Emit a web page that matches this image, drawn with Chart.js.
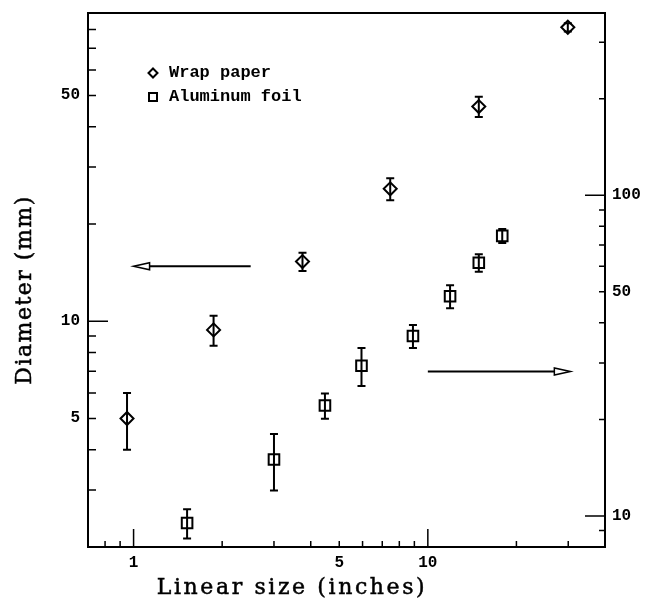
<!DOCTYPE html>
<html>
<head>
<meta charset="utf-8">
<title>Diameter vs linear size</title>
<script src="https://cdn.jsdelivr.net/npm/chart.js@4.4.0/dist/chart.umd.min.js"></script>
<style>
    html, body { margin: 0; padding: 0; background: #fff; }
</style>
</head>
<body>
<canvas id="chart" width="652" height="602"></canvas>
<script>
// Wrap paper (read on the left axis, mm)
const wrapSize = [0.95, 1.87, 3.75, 7.45, 14.9, 29.9];
const wrapDiam = [5.0, 9.4, 15.3, 25.7, 46.2, 81.3];
const wrapErr = [1.0, 1.0, 1.0, 2.0, 3.3, 2.4];

// Aluminum foil (read on the right axis)
const foilSize = [1.52, 3.0, 4.47, 5.95, 8.9, 11.9, 14.9, 17.9];
const foilDiam = [9.5, 15.0, 22.1, 29.4, 36.4, 48.4, 61.6, 74.7];
const foilErr = [1.0, 3.0, 2.0, 4.0, 3.0, 4.0, 3.9, 3.8];

// Tick labels
const xLabels = [1, 5, 10];
const leftLabels = [5, 10, 50];
const rightLabels = [10, 50, 100];

// Axis ranges
const xRange = [0.7, 40];
const leftRange = [2, 90];
const rightRange = [8, 370];

// Arrows telling which axis goes with which series (data coords)
const leftArrow = { from: 2.5, to: 1.0, y: 14.8 };
const rightArrow = { from: 10, to: 30.5, y: 28.2 };

const tickFont = { family: 'Liberation Mono', size: 16, weight: 'bold' };

// all 1..9 x 10^n positions inside a range, for the little tick marks
function logTickValues(min, max) {
    const out = [];
    for (let e = -1; e <= 3; e++) {
        for (let d = 1; d <= 9; d++) {
            const v = d * Math.pow(10, e);
            if (v >= min && v <= max) out.push(v);
        }
    }
    return out;
}

function isDecade(v) {
    return Math.abs(Math.log10(v) - Math.round(Math.log10(v))) < 1e-9;
}

// draw text a little heavier, like the scanned original
function heavyText(ctx, text, x, y) {
    ctx.fillText(text, x, y);
    ctx.lineWidth = 0.5;
    ctx.strokeText(text, x, y);
}

// Frame, inward tick marks, error bars, arrows, legend, axis titles
const decorPlugin = {
    id: 'decor',
    afterDatasetsDraw(chart) {
        const ctx = chart.ctx;
        const area = chart.chartArea;
        const sx = chart.scales.x;
        const sy = chart.scales.y;
        const sy2 = chart.scales.y2;

        ctx.save();
        ctx.strokeStyle = '#000';
        ctx.fillStyle = '#000';
        ctx.lineCap = 'butt';

        // error bars
        ctx.lineWidth = 2;
        const bars = (xs, ys, es, scale) => {
            xs.forEach((xv, i) => {
                const px = sx.getPixelForValue(xv);
                const top = scale.getPixelForValue(ys[i] + es[i]);
                const bot = scale.getPixelForValue(ys[i] - es[i]);
                ctx.beginPath();
                ctx.moveTo(px, top); ctx.lineTo(px, bot);
                ctx.moveTo(px - 4, top); ctx.lineTo(px + 4, top);
                ctx.moveTo(px - 4, bot); ctx.lineTo(px + 4, bot);
                ctx.stroke();
            });
        };
        bars(wrapSize, wrapDiam, wrapErr, sy);
        bars(foilSize, foilDiam, foilErr, sy2);

        // frame
        ctx.lineWidth = 2;
        ctx.strokeRect(area.left, area.top, area.right - area.left, area.bottom - area.top);

        // tick marks pointing inward
        ctx.lineWidth = 1.5;
        ctx.beginPath();
        logTickValues(xRange[0], xRange[1]).forEach(v => {
            const p = sx.getPixelForValue(v);
            const len = isDecade(v) ? 18 : 6;
            ctx.moveTo(p, area.bottom); ctx.lineTo(p, area.bottom - len);
        });
        logTickValues(leftRange[0], leftRange[1]).forEach(v => {
            const p = sy.getPixelForValue(v);
            const len = isDecade(v) ? 20 : 8;
            ctx.moveTo(area.left, p); ctx.lineTo(area.left + len, p);
        });
        logTickValues(rightRange[0], rightRange[1]).forEach(v => {
            const p = sy2.getPixelForValue(v);
            const len = isDecade(v) ? 20 : 6;
            ctx.moveTo(area.right, p); ctx.lineTo(area.right - len, p);
        });
        ctx.stroke();

        // arrows
        const arrow = (a, scale) => {
            const x0 = sx.getPixelForValue(a.from);
            const x1 = sx.getPixelForValue(a.to);
            const y = scale.getPixelForValue(a.y);
            const dir = x1 > x0 ? 1 : -1;
            const base = x1 - dir * 16;
            ctx.lineWidth = 2;
            ctx.beginPath();
            ctx.moveTo(x0, y); ctx.lineTo(base, y);
            ctx.stroke();
            ctx.lineWidth = 1.5;
            ctx.beginPath();
            ctx.moveTo(x1, y);
            ctx.lineTo(base, y - 3.5);
            ctx.lineTo(base, y + 3.5);
            ctx.closePath();
            ctx.stroke();
        };
        arrow(leftArrow, sy);
        arrow(rightArrow, sy2);

        // legend
        const lx = area.left + 65;
        ctx.lineWidth = 2;
        ctx.beginPath();
        const dy = area.top + 60;
        ctx.moveTo(lx, dy - 4.5); ctx.lineTo(lx + 4.5, dy);
        ctx.lineTo(lx, dy + 4.5); ctx.lineTo(lx - 4.5, dy);
        ctx.closePath();
        ctx.stroke();
        const qy = area.top + 84;
        ctx.strokeRect(lx - 4, qy - 4, 8, 8);
        ctx.font = 'bold 17px "Liberation Mono"';
        ctx.textAlign = 'left';
        ctx.textBaseline = 'middle';
        ctx.fillText('Wrap paper', lx + 16, dy);
        ctx.fillText('Aluminum foil', lx + 16, qy);

        // axis titles
        ctx.font = '22px "DejaVu Serif"';
        ctx.textAlign = 'center';
        ctx.textBaseline = 'middle';
        ctx.letterSpacing = '2.6px';
        heavyText(ctx, 'Linear size (inches)', area.left + 204, area.bottom + 41);
        ctx.save();
        ctx.letterSpacing = '1.5px';
        ctx.translate(area.left - 63, area.top + 277);
        ctx.rotate(-Math.PI / 2);
        heavyText(ctx, 'Diameter (mm)', 0, 0);
        ctx.restore();

        ctx.restore();
    }
};

// drop the automatic label overhang so the plot frame sits where the layout says
function noOverhang(s) {
    s.paddingTop = 0;
    s.paddingBottom = 0;
    s.paddingLeft = 0;
    s.paddingRight = 0;
}

const ctx = document.getElementById('chart').getContext('2d');
const chart = new Chart(ctx, {
    type: 'scatter',
    data: {
        datasets: [
            {
                label: 'Wrap paper',
                data: wrapSize.map((x, i) => ({ x: x, y: wrapDiam[i] })),
                yAxisID: 'y',
                pointStyle: 'rectRot',
                pointRadius: 6.5,
                borderWidth: 2,
                borderColor: '#000',
                backgroundColor: 'rgba(0,0,0,0)'
            },
            {
                label: 'Aluminum foil',
                data: foilSize.map((x, i) => ({ x: x, y: foilDiam[i] })),
                yAxisID: 'y2',
                pointStyle: 'rect',
                pointRadius: 7.5,
                borderWidth: 2,
                borderColor: '#000',
                backgroundColor: 'rgba(0,0,0,0)'
            }
        ]
    },
    options: {
        responsive: false,
        animation: false,
        layout: { padding: { top: 13, left: 0, right: 0, bottom: 0 } },
        plugins: {
            legend: { display: false },
            tooltip: { enabled: false }
        },
        scales: {
            x: {
                type: 'logarithmic',
                position: 'bottom',
                min: xRange[0],
                max: xRange[1],
                grid: { display: false, drawTicks: false },
                border: { display: false },
                ticks: {
                    autoSkip: false, maxRotation: 0, padding: 6,
                    color: '#000', font: tickFont,
                    callback: v => xLabels.includes(v) ? String(v) : ''
                },
                afterBuildTicks: s => { s.ticks = xLabels.map(v => ({ value: v })); },
                afterFit: s => { s.height = 55; noOverhang(s); }
            },
            y: {
                type: 'logarithmic',
                position: 'left',
                min: leftRange[0],
                max: leftRange[1],
                grid: { display: false, drawTicks: false },
                border: { display: false },
                ticks: {
                    autoSkip: false, padding: 8,
                    color: '#000', font: tickFont,
                    callback: v => leftLabels.includes(v) ? String(v) : ''
                },
                afterBuildTicks: s => { s.ticks = leftLabels.map(v => ({ value: v })); },
                afterFit: s => { s.width = 88; noOverhang(s); }
            },
            y2: {
                type: 'logarithmic',
                position: 'right',
                min: rightRange[0],
                max: rightRange[1],
                grid: { display: false, drawTicks: false },
                border: { display: false },
                ticks: {
                    autoSkip: false, padding: 7,
                    color: '#000', font: tickFont,
                    callback: v => rightLabels.includes(v) ? String(v) : ''
                },
                afterBuildTicks: s => { s.ticks = rightLabels.map(v => ({ value: v })); },
                afterFit: s => { s.width = 47; noOverhang(s); }
            }
        }
    },
    plugins: [decorPlugin]
});
</script>
</body>
</html>
